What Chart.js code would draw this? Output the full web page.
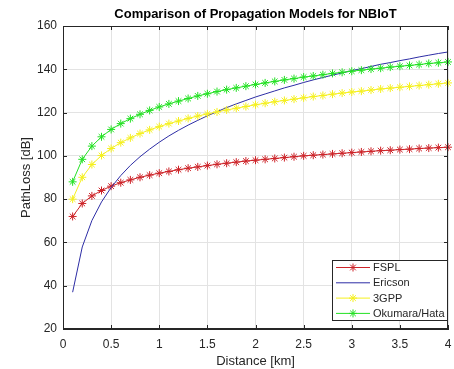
<!DOCTYPE html>
<html lang="en">
<head>
<meta charset="UTF-8">
<title>Comparison of Propagation Models for NBIoT</title>
<script src="https://cdn.jsdelivr.net/npm/chart.js"></script>
<style>
  html, body { margin: 0; padding: 0; background: #fff; }
  #wrap { width: 454px; height: 369px; }
</style>
</head>
<body>
<div id="wrap"><canvas id="chart" width="454" height="369"></canvas></div>
<script>
// distance in km
const distance = [0.1, 0.2, 0.3, 0.4, 0.5, 0.6, 0.7, 0.8, 0.9, 1.0,
                  1.1, 1.2, 1.3, 1.4, 1.5, 1.6, 1.7, 1.8, 1.9, 2.0,
                  2.1, 2.2, 2.3, 2.4, 2.5, 2.6, 2.7, 2.8, 2.9, 3.0,
                  3.1, 3.2, 3.3, 3.4, 3.5, 3.6, 3.7, 3.8, 3.9, 4.0];

// path loss in dB
const fspl = [72.0, 78.0, 81.5, 84.0, 86.0, 87.6, 88.9, 90.1, 91.1, 92.0,
              92.8, 93.6, 94.3, 94.9, 95.5, 96.1, 96.6, 97.1, 97.6, 98.0,
              98.4, 98.8, 99.2, 99.6, 100.0, 100.3, 100.6, 100.9, 101.2, 101.5,
              101.8, 102.1, 102.4, 102.6, 102.9, 103.1, 103.4, 103.6, 103.8, 104.0];

const ericson = [37.0, 57.9, 70.1, 78.7, 85.4, 90.9, 95.6, 99.6, 103.1, 106.3,
                 109.2, 111.8, 114.2, 116.4, 118.5, 120.4, 122.3, 124.0, 125.6, 127.2,
                 128.6, 130.0, 131.4, 132.6, 133.9, 135.1, 136.2, 137.3, 138.3, 139.4,
                 140.3, 141.3, 142.3, 143.1, 144.0, 144.8, 145.7, 146.5, 147.3, 148.0];

const gpp3 = [80.0, 90.1, 96.0, 100.2, 103.4, 106.1, 108.3, 110.3, 112.0, 113.5,
              114.9, 116.1, 117.3, 118.4, 119.4, 120.3, 121.2, 122.0, 122.8, 123.6,
              124.3, 125.0, 125.6, 126.2, 126.8, 127.4, 127.9, 128.5, 129.0, 129.5,
              129.9, 130.4, 130.9, 131.3, 131.7, 132.1, 132.5, 132.9, 133.3, 133.7];

const okumara = [88.0, 98.4, 104.5, 108.8, 112.2, 114.9, 117.2, 119.2, 121.0, 122.6,
                 124.0, 125.3, 126.5, 127.7, 128.7, 129.7, 130.6, 131.4, 132.2, 133.0,
                 133.7, 134.4, 135.1, 135.7, 136.4, 136.9, 137.5, 138.1, 138.6, 139.1,
                 139.6, 140.1, 140.5, 141.0, 141.4, 141.8, 142.2, 142.7, 143.0, 143.4];

const xTicks = [0, 0.5, 1, 1.5, 2, 2.5, 3, 3.5, 4];
const yTicks = [20, 40, 60, 80, 100, 120, 140, 160];

const series = [
  { label: 'FSPL', data: fspl, color: 'rgb(205,35,40)', marker: true },
  { label: 'Ericson', data: ericson, color: 'rgb(45,45,165)', marker: false },
  { label: '3GPP', data: gpp3, color: 'rgb(245,240,30)', marker: true },
  { label: 'Okumara/Hata', data: okumara, color: 'rgb(35,225,35)', marker: true }
];

const titleText = 'Comparison of Propagation Models for NBIoT';
const axisColor = '#262626';
const font = 'Liberation Sans, Arial, Helvetica, sans-serif';

// title centred over the plot area, like MATLAB does
const titlePlugin = {
  id: 'plotTitle',
  afterDraw(chart) {
    const { ctx, chartArea: a } = chart;
    ctx.save();
    ctx.font = 'bold 13px ' + font;
    ctx.fillStyle = '#000';
    ctx.textAlign = 'center';
    ctx.textBaseline = 'middle';
    ctx.fillText(titleText, (a.left + a.right) / 2, 14);
    ctx.restore();
  }
};

// box around the plot with inward ticks
const boxPlugin = {
  id: 'box',
  afterDraw(chart) {
    const { ctx, chartArea: a, scales } = chart;
    ctx.save();
    ctx.strokeStyle = axisColor;
    ctx.lineWidth = 1;
    ctx.strokeRect(a.left + 0.5, a.top + 0.5, a.right - a.left - 1, a.bottom - a.top - 1);
    ctx.beginPath();
    xTicks.forEach(v => {
      const x = Math.round(scales.x.getPixelForValue(v)) + 0.5;
      ctx.moveTo(x, a.bottom); ctx.lineTo(x, a.bottom - 4);
      ctx.moveTo(x, a.top); ctx.lineTo(x, a.top + 4);
    });
    yTicks.forEach(v => {
      const y = Math.round(scales.y.getPixelForValue(v)) + 0.5;
      ctx.moveTo(a.left, y); ctx.lineTo(a.left + 4, y);
      ctx.moveTo(a.right, y); ctx.lineTo(a.right - 4, y);
    });
    ctx.stroke();
    ctx.restore();
  }
};

// legend drawn inside the plot, lower right
const legendPlugin = {
  id: 'insideLegend',
  afterDraw(chart) {
    const { ctx, chartArea: a } = chart;
    const w = 115, h = 60;
    const x0 = a.right - 1 - w, y0 = a.bottom - 9 - h;
    ctx.save();
    ctx.fillStyle = '#fff';
    ctx.fillRect(x0, y0, w, h);
    ctx.strokeStyle = axisColor;
    ctx.lineWidth = 1;
    ctx.strokeRect(x0 + 0.5, y0 + 0.5, w, h);
    ctx.font = '11px ' + font;
    ctx.textBaseline = 'middle';
    chart.data.datasets.forEach((ds, i) => {
      const y = y0 + 7.5 + i * 15.3;
      ctx.strokeStyle = ds.borderColor;
      ctx.lineWidth = 1;
      ctx.beginPath();
      ctx.moveTo(x0 + 4, y); ctx.lineTo(x0 + 38, y);
      ctx.stroke();
      if (ds.pointRadius > 0) {
        Chart.helpers.drawPoint(ctx, { pointStyle: 'star', radius: 4, rotation: 0, borderWidth: 1 }, x0 + 21, y);
      }
      ctx.fillStyle = axisColor;
      ctx.fillText(ds.label, x0 + 41, y + 0.5);
    });
    ctx.restore();
  }
};

new Chart(document.getElementById('chart'), {
  type: 'line',
  data: {
    datasets: series.map((s, i) => ({
      label: s.label,
      data: distance.map((d, j) => ({ x: d, y: s.data[j] })),
      borderColor: s.color,
      backgroundColor: s.color,
      borderWidth: 1,
      pointStyle: 'star',
      pointRadius: s.marker ? 4 : 0,
      pointBorderWidth: 1,
      pointBorderColor: s.color,
      tension: 0,
      fill: false,
      clip: false,
      order: series.length - i
    }))
  },
  options: {
    responsive: false,
    animation: false,
    devicePixelRatio: 1,
    layout: { padding: { left: 0, right: 6, top: 26, bottom: 0 } },
    plugins: {
      legend: { display: false },
      tooltip: { enabled: false },
      title: { display: false }
    },
    scales: {
      x: {
        type: 'linear',
        min: 0, max: 4,
        afterBuildTicks: s => { s.ticks = xTicks.map(v => ({ value: v })); },
        afterFit: s => { s.height = 40; s.paddingLeft = 0; s.paddingRight = 0; },
        grid: { color: '#e3e3e3', drawTicks: false },
        border: { color: axisColor },
        ticks: {
          color: axisColor, padding: 8, maxRotation: 0,
          font: { family: font, size: 12 },
          callback: v => String(v)
        },
        title: {
          display: true, text: 'Distance [km]', color: axisColor,
          font: { family: font, size: 13 }, padding: { top: 0, bottom: 0 }
        }
      },
      y: {
        min: 20, max: 160,
        afterBuildTicks: s => { s.ticks = yTicks.map(v => ({ value: v })); },
        afterFit: s => { s.width = 63; s.paddingTop = 0; s.paddingBottom = 0; },
        grid: { color: '#e3e3e3', drawTicks: false },
        border: { color: axisColor },
        ticks: {
          color: axisColor, padding: 6,
          font: { family: font, size: 12 },
          callback: v => String(v)
        },
        title: {
          display: true, text: 'PathLoss [dB]', color: axisColor,
          font: { family: font, size: 13 }, padding: { top: 19, bottom: 0 }
        }
      }
    }
  },
  plugins: [boxPlugin, legendPlugin, titlePlugin]
});
</script>
</body>
</html>
